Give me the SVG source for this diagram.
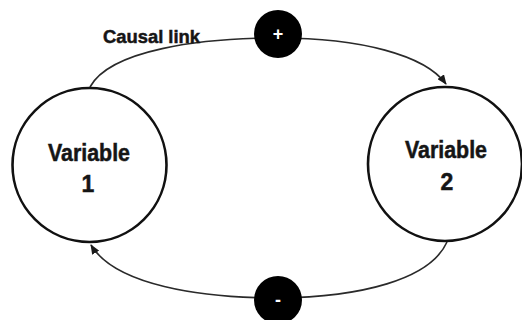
<svg xmlns="http://www.w3.org/2000/svg" width="522" height="320" viewBox="0 0 522 320">
  <style>
    .var { fill: #ffffff; stroke: #111111; stroke-width: 2.6; }
    .sign { fill: #000000; }
    .lbl { font-family: "Liberation Sans", Arial, sans-serif; font-weight: bold; fill: #151515; stroke: #151515; stroke-width: 0.5; }
    .signtxt { font-family: "Liberation Sans", Arial, sans-serif; font-weight: bold; fill: #ffffff; font-size: 18px; text-anchor: middle; }
    .link { fill: none; stroke: #2a2a2a; stroke-width: 1.6; }
  </style>
  <defs>
    <marker id="arrow" markerUnits="userSpaceOnUse" markerWidth="10" markerHeight="8" refX="9" refY="4" orient="auto">
      <path d="M0,0 L10,4 L0,8 z" fill="#1a1a1a"/>
    </marker>
  </defs>
  <rect width="522" height="320" fill="#ffffff"/>
  <g id="connectors">
    <path class="link" d="M 90 87 C 110 50, 200 38, 278 38 C 360 38, 425 55, 446 84" marker-end="url(#arrow)"/>
    <path class="link" d="M 447 242 C 430 280, 360 297, 278 298 C 200 298, 115 285, 91 245" marker-end="url(#arrow)"/>
  </g>
  <g id="variable1">
    <circle class="var" cx="89.5" cy="165" r="77"/>
    <text class="lbl" x="89" y="161" font-size="23" text-anchor="middle" textLength="82" lengthAdjust="spacingAndGlyphs">Variable</text>
    <text class="lbl" x="88" y="192" font-size="23" text-anchor="middle">1</text>
  </g>
  <g id="variable2">
    <circle class="var" cx="445" cy="164" r="77"/>
    <text class="lbl" x="446" y="158" font-size="23" text-anchor="middle" textLength="82" lengthAdjust="spacingAndGlyphs">Variable</text>
    <text class="lbl" x="447" y="190" font-size="23" text-anchor="middle">2</text>
  </g>
  <g id="plus">
    <circle class="sign" cx="278" cy="34" r="24"/>
    <text class="signtxt" x="278" y="40">+</text>
  </g>
  <g id="minus">
    <circle class="sign" cx="278" cy="300" r="24"/>
    <text class="signtxt" x="278" y="306">-</text>
  </g>
  <g id="causal-label">
    <text class="lbl" x="103" y="43" font-size="18.5" textLength="97" lengthAdjust="spacingAndGlyphs">Causal link</text>
  </g>
</svg>
